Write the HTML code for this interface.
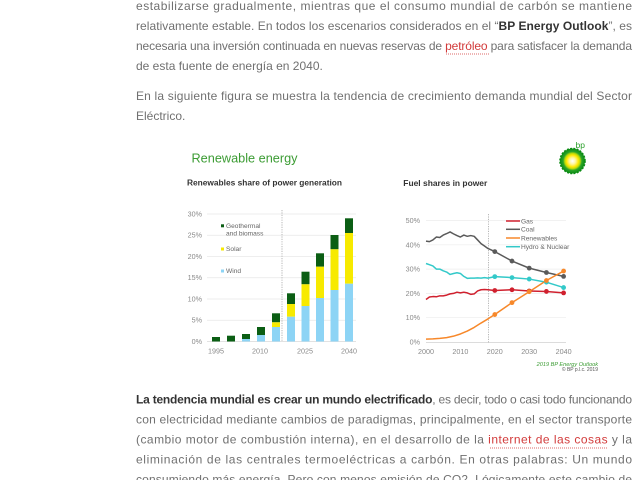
<!DOCTYPE html>
<html><head><meta charset="utf-8"><style>
html,body{margin:0;padding:0;background:#fff;width:640px;height:480px;overflow:hidden}
svg{display:block}
.b{font-family:"Liberation Sans",sans-serif;font-size:12px;fill:#707070}
.bb{font-weight:bold;fill:#333}
.lk{fill:#d23a3a}
.ax{font-family:"Liberation Sans",sans-serif;font-size:7.2px;fill:#8a8a8a}
.lg{font-family:"Liberation Sans",sans-serif;font-size:6.6px;fill:#666}
</style></head><body>
<svg width="640" height="480" viewBox="0 0 640 480" xmlns="http://www.w3.org/2000/svg">
<defs>
<radialGradient id="sun" cx="50%" cy="50%" r="50%">
<stop offset="0%" stop-color="#ffffff"/>
<stop offset="25%" stop-color="#fff7a0"/>
<stop offset="48%" stop-color="#ffe800"/>
<stop offset="62%" stop-color="#b6d80a"/>
<stop offset="75%" stop-color="#2aa42a"/>
<stop offset="100%" stop-color="#0c8c14"/>
</radialGradient>
</defs>

<!-- Body text top -->
<text class="b" x="136" y="10" textLength="496" lengthAdjust="spacing">estabilizarse gradualmente, mientras que el consumo mundial de carbón se mantiene</text>
<text class="b" x="136" y="30" textLength="496" lengthAdjust="spacing">relativamente estable. En todos los escenarios considerados en el “<tspan class="bb">BP Energy Outlook</tspan>”, es</text>
<text class="b" x="136" y="50" textLength="496" lengthAdjust="spacing">necesaria una inversión continuada en nuevas reservas de <tspan class="lk">petróleo</tspan> para satisfacer la demanda</text>
<line x1="446" y1="54" x2="489" y2="54" stroke="#d23a3a" stroke-width="0.8" stroke-dasharray="1,1"/>
<text class="b" x="136" y="70">de esta fuente de energía en 2040.</text>
<text class="b" x="136" y="100" textLength="496" lengthAdjust="spacing">En la siguiente figura se muestra la tendencia de crecimiento demanda mundial del Sector</text>
<text class="b" x="136" y="120">Eléctrico.</text>

<!-- Body text bottom -->
<text class="b" x="136" y="403.7" textLength="496" lengthAdjust="spacing"><tspan class="bb">La tendencia mundial es crear un mundo electrificado</tspan>, es decir, todo o casi todo funcionando</text>
<text class="b" x="136" y="423.7" textLength="496" lengthAdjust="spacing">con electricidad mediante cambios de paradigmas, principalmente, en el sector transporte</text>
<text class="b" x="136" y="443.7" textLength="496" lengthAdjust="spacing">(cambio motor de combustión interna), en el desarrollo de la <tspan class="lk">internet de las cosas</tspan> y la</text>
<line x1="490" y1="448" x2="608" y2="448" stroke="#d23a3a" stroke-width="0.8" stroke-dasharray="1,1"/>
<text class="b" x="136" y="463.7" textLength="496" lengthAdjust="spacing">eliminación de las centrales termoeléctricas a carbón. En otras palabras: Un mundo</text>
<text class="b" x="136" y="483.7" textLength="496" lengthAdjust="spacing">consumiendo más energía. Pero con menos emisión de CO2. Lógicamente este cambio de</text>

<!-- Left chart -->
<text x="191.5" y="162.5" font-family="Liberation Sans,sans-serif" font-size="13" fill="#3c9c34" textLength="106" lengthAdjust="spacingAndGlyphs">Renewable energy</text>
<text x="187" y="185.7" font-family="Liberation Sans,sans-serif" font-size="8" font-weight="bold" fill="#333" textLength="155" lengthAdjust="spacingAndGlyphs">Renewables share of power generation</text>

<g stroke="#e8e8e8" stroke-width="0.7">
<line x1="207" y1="214" x2="356" y2="214"/>
<line x1="207" y1="235.25" x2="356" y2="235.25"/>
<line x1="207" y1="256.5" x2="356" y2="256.5"/>
<line x1="207" y1="277.75" x2="356" y2="277.75"/>
<line x1="207" y1="299" x2="356" y2="299"/>
<line x1="207" y1="320.25" x2="356" y2="320.25"/>
</g>
<line x1="207" y1="341.5" x2="356" y2="341.5" stroke="#d8d8d8" stroke-width="0.7"/>
<g class="ax" text-anchor="end">
<text x="202" y="216.5">30%</text>
<text x="202" y="237.7">25%</text>
<text x="202" y="259">20%</text>
<text x="202" y="280.2">15%</text>
<text x="202" y="301.5">10%</text>
<text x="202" y="322.7">5%</text>
<text x="202" y="344">0%</text>
</g>
<g class="ax" text-anchor="middle">
<text x="216" y="353.5">1995</text>
<text x="260" y="353.5">2010</text>
<text x="305" y="353.5">2025</text>
<text x="349" y="353.5">2040</text>
</g>
<line x1="282" y1="210" x2="282" y2="341.5" stroke="#999" stroke-width="0.7" stroke-dasharray="1.2,1.2"/>

<!-- bars -->
<g>
<rect x="212" y="337" width="8" height="4.5" fill="#0b5e14"/>
<rect x="227" y="335.7" width="8" height="5.8" fill="#0b5e14"/>
<rect x="242" y="334" width="8" height="5" fill="#0b5e14"/>
<rect x="242" y="339" width="8" height="2.5" fill="#8dd4f5"/>
<rect x="257" y="327" width="8" height="8" fill="#0b5e14"/>
<rect x="257" y="335" width="8" height="6.5" fill="#8dd4f5"/>
<rect x="272" y="313.3" width="8" height="9" fill="#0b5e14"/>
<rect x="272" y="322.3" width="8" height="4.7" fill="#f7ea00"/>
<rect x="272" y="327" width="8" height="14.5" fill="#8dd4f5"/>
<rect x="287" y="293.3" width="8" height="10.7" fill="#0b5e14"/>
<rect x="287" y="304" width="8" height="12.7" fill="#f7ea00"/>
<rect x="287" y="316.7" width="8" height="24.8" fill="#8dd4f5"/>
<rect x="301.5" y="271.7" width="8" height="12.6" fill="#0b5e14"/>
<rect x="301.5" y="284.3" width="8" height="21.7" fill="#f7ea00"/>
<rect x="301.5" y="306" width="8" height="35.5" fill="#8dd4f5"/>
<rect x="316" y="253.3" width="8" height="13.4" fill="#0b5e14"/>
<rect x="316" y="266.7" width="8" height="31.3" fill="#f7ea00"/>
<rect x="316" y="298" width="8" height="43.5" fill="#8dd4f5"/>
<rect x="330.5" y="235" width="8" height="14.3" fill="#0b5e14"/>
<rect x="330.5" y="249.3" width="8" height="40.7" fill="#f7ea00"/>
<rect x="330.5" y="290" width="8" height="51.5" fill="#8dd4f5"/>
<rect x="345" y="218.3" width="8" height="14.7" fill="#0b5e14"/>
<rect x="345" y="233" width="8" height="50.7" fill="#f7ea00"/>
<rect x="345" y="283.7" width="8" height="57.8" fill="#8dd4f5"/>
</g>
<!-- left legend -->
<rect x="221" y="224.3" width="3" height="3" fill="#0b5e14"/>
<text class="lg" x="226" y="227.8">Geothermal</text>
<text class="lg" x="226" y="235.3">and biomass</text>
<rect x="221" y="247.5" width="3" height="3" fill="#f7ea00"/>
<text class="lg" x="226" y="251">Solar</text>
<rect x="221" y="269.5" width="3" height="3" fill="#8dd4f5"/>
<text class="lg" x="226" y="273">Wind</text>

<!-- bp logo -->
<text x="575.5" y="148" font-family="Liberation Sans,sans-serif" font-size="8.5" fill="#2a9f2a">bp</text>
<circle cx="572.5" cy="161" r="12.5" fill="url(#sun)"/>
<circle cx="572.5" cy="161" r="12.5" fill="none" stroke="#0c8c14" stroke-width="1.6" stroke-dasharray="2,1.3"/>

<!-- Right chart -->
<text x="403.3" y="186" font-family="Liberation Sans,sans-serif" font-size="8.5" font-weight="bold" fill="#333" textLength="84" lengthAdjust="spacingAndGlyphs">Fuel shares in power</text>
<g stroke="#ececec" stroke-width="0.7">
<line x1="426" y1="220.5" x2="566" y2="220.5"/>
<line x1="426" y1="244.8" x2="566" y2="244.8"/>
<line x1="426" y1="269.1" x2="566" y2="269.1"/>
<line x1="426" y1="293.4" x2="566" y2="293.4"/>
<line x1="426" y1="317.7" x2="566" y2="317.7"/>
</g>
<line x1="426" y1="342.5" x2="566" y2="342.5" stroke="#d0d0d0" stroke-width="0.7"/>
<g class="ax" text-anchor="end">
<text x="420" y="223">50%</text>
<text x="420" y="247.3">40%</text>
<text x="420" y="271.6">30%</text>
<text x="420" y="295.9">20%</text>
<text x="420" y="320.2">10%</text>
<text x="420" y="344.5">0%</text>
</g>
<g class="ax" text-anchor="middle">
<text x="426" y="354">2000</text>
<text x="460.4" y="354">2010</text>
<text x="494.8" y="354">2020</text>
<text x="529.2" y="354">2030</text>
<text x="563.6" y="354">2040</text>
</g>
<line x1="488.5" y1="214" x2="488.5" y2="342.5" stroke="#999" stroke-width="0.7" stroke-dasharray="1.2,1.2"/>

<g fill="none" stroke-width="1.5" stroke-linejoin="round">
<polyline stroke="#5a5a5a" points="426,241.15 429.44,241.64 432.88,239.94 436.32,237.02 439.76,237.51 443.2,235.08 446.64,233.62 450.08,231.92 453.52,233.87 456.96,235.57 460.4,237.02 463.84,235.08 467.28,236.3 470.72,235.57 474.16,236.3 477.6,239.94 481.04,243.59 484.48,246.02 487.92,248.45 494.8,251.6 512,261.08 529.2,268.13 546.4,272.5 563.6,276.39"/>
<polyline stroke="#33c9c9" points="426,263.51 429.44,264.73 432.88,265.94 436.32,269.1 439.76,269.1 443.2,270.8 446.64,272.02 450.08,274.45 453.52,273.47 456.96,272.75 460.4,273.47 463.84,276.39 467.28,278.33 470.72,278.09 474.16,278.09 477.6,277.85 481.04,278.09 484.48,277.6 487.92,278.09 494.8,276.63 512,277.6 529.2,279.06 546.4,282.22 563.6,287.57"/>
<polyline stroke="#d0202e" points="426,299.48 429.44,297.05 432.88,296.56 436.32,296.8 439.76,295.83 443.2,295.83 446.64,295.1 450.08,293.89 453.52,293.4 456.96,292.19 460.4,292.91 463.84,292.19 467.28,292.91 470.72,294.37 474.16,293.89 477.6,290.97 481.04,289.76 484.48,289.51 487.92,289.76 494.8,290.48 512,289.76 529.2,290.97 546.4,291.46 563.6,292.91"/>
<polyline stroke="#f7882a" points="426,339.08 432.88,338.84 439.76,338.36 446.64,337.63 453.52,336.17 460.4,333.98 467.28,331.07 474.16,327.42 481.04,323.05 487.92,318.92 494.8,314.54 512,302.63 529.2,291.7 546.4,280.52 563.6,271.04"/>
</g>
<g fill="#5a5a5a">
<circle cx="494.8" cy="251.6" r="2.4"/><circle cx="512" cy="261.08" r="2.4"/><circle cx="529.2" cy="268.13" r="2.4"/><circle cx="546.4" cy="272.5" r="2.4"/><circle cx="563.6" cy="276.39" r="2.4"/>
</g>
<g fill="#33c9c9">
<circle cx="494.8" cy="276.63" r="2.4"/><circle cx="512" cy="277.6" r="2.4"/><circle cx="529.2" cy="279.06" r="2.4"/><circle cx="546.4" cy="282.22" r="2.4"/><circle cx="563.6" cy="287.57" r="2.4"/>
</g>
<g fill="#d0202e">
<circle cx="494.8" cy="290.48" r="2.4"/><circle cx="512" cy="289.76" r="2.4"/><circle cx="529.2" cy="290.97" r="2.4"/><circle cx="546.4" cy="291.46" r="2.4"/><circle cx="563.6" cy="292.91" r="2.4"/>
</g>
<g fill="#f7882a">
<circle cx="494.8" cy="314.54" r="2.4"/><circle cx="512" cy="302.63" r="2.4"/><circle cx="529.2" cy="291.7" r="2.4"/><circle cx="546.4" cy="280.52" r="2.4"/><circle cx="563.6" cy="271.04" r="2.4"/>
</g>

<!-- right legend -->
<g stroke-width="1.5">
<line x1="506" y1="221" x2="520" y2="221" stroke="#d0202e"/>
<line x1="506" y1="229.3" x2="520" y2="229.3" stroke="#5a5a5a"/>
<line x1="506" y1="238" x2="520" y2="238" stroke="#f7882a"/>
<line x1="506" y1="246.7" x2="520" y2="246.7" stroke="#33c9c9"/>
</g>
<text class="lg" x="521" y="223.3">Gas</text>
<text class="lg" x="521" y="231.6">Coal</text>
<text class="lg" x="521" y="240.3">Renewables</text>
<text class="lg" x="521" y="249">Hydro &amp; Nuclear</text>

<!-- footnote -->
<text x="598" y="366" text-anchor="end" font-family="Liberation Sans,sans-serif" font-size="5.6" font-style="italic" fill="#3c9c34">2019 BP Energy Outlook</text>
<text x="598" y="371" text-anchor="end" font-family="Liberation Sans,sans-serif" font-size="5" fill="#555">© BP p.l.c. 2019</text>
</svg>
</body></html>
